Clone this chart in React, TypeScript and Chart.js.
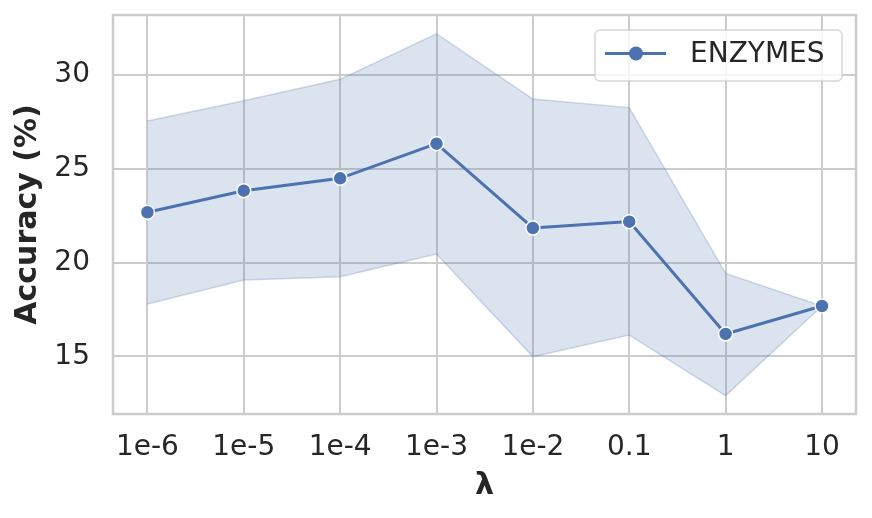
import React, { useEffect, useRef } from 'react';
import { Chart, registerables } from 'chart.js';

Chart.register(...registerables);

const lambdaLabels = ['1e-6', '1e-5', '1e-4', '1e-3', '1e-2', '0.1', '1', '10'];
const meanAcc = [22.68, 23.83, 24.49, 26.34, 21.84, 22.18, 16.19, 17.68];
const upperAcc = [27.55, 28.63, 29.77, 32.2, 28.72, 28.26, 19.42, 17.68];
const lowerAcc = [17.79, 19.07, 19.24, 20.45, 14.98, 16.13, 12.9, 17.68];
const yTicks = [15, 20, 25, 30];
const seriesName = 'ENZYMES';

const BLUE = '#4c72b0';
const TEXT = '#262626';
const GRID = '#cccccc';
const FONT = "'DejaVu Sans', sans-serif";

const framePlugin = {
  id: 'frame',
  afterDatasetsDraw(chart: any) {
    const { ctx, chartArea: a } = chart;
    ctx.save();
    ctx.strokeStyle = GRID;
    ctx.lineWidth = 2.5;
    ctx.strokeRect(a.left, a.top, a.right - a.left, a.bottom - a.top);
    ctx.restore();
  },
};

const legendPlugin = {
  id: 'boxLegend',
  afterDraw(chart: any) {
    const { ctx, chartArea: a } = chart;
    const w = 247;
    const h = 51;
    const x = a.right - 14 - w;
    const y = a.top + 15;
    const r = 5;
    ctx.save();
    ctx.beginPath();
    ctx.moveTo(x + r, y);
    ctx.lineTo(x + w - r, y);
    ctx.arcTo(x + w, y, x + w, y + r, r);
    ctx.lineTo(x + w, y + h - r);
    ctx.arcTo(x + w, y + h, x + w - r, y + h, r);
    ctx.lineTo(x + r, y + h);
    ctx.arcTo(x, y + h, x, y + h - r, r);
    ctx.lineTo(x, y + r);
    ctx.arcTo(x, y, x + r, y, r);
    ctx.closePath();
    ctx.fillStyle = 'rgba(255,255,255,0.8)';
    ctx.fill();
    ctx.strokeStyle = 'rgba(204,204,204,0.8)';
    ctx.lineWidth = 1.5;
    ctx.stroke();
    const cy = y + h / 2 - 2;
    ctx.strokeStyle = BLUE;
    ctx.lineWidth = 3;
    ctx.beginPath();
    ctx.moveTo(x + 10, cy);
    ctx.lineTo(x + 71, cy);
    ctx.stroke();
    ctx.beginPath();
    ctx.arc(x + 41, cy, 7, 0, Math.PI * 2);
    ctx.fillStyle = BLUE;
    ctx.fill();
    ctx.fillStyle = TEXT;
    ctx.font = `28px ${FONT}`;
    ctx.textAlign = 'left';
    ctx.textBaseline = 'middle';
    ctx.fillText(chart.data.datasets[0].label, x + 95, cy + 1);
    ctx.restore();
  },
};

export default function App() {
  const ref = useRef<HTMLCanvasElement | null>(null);

  useEffect(() => {
    if (!ref.current) return;
    const chart = new Chart(ref.current, {
      type: 'line',
      data: {
        datasets: [
          {
            label: seriesName,
            data: meanAcc.map((v, i) => ({ x: i, y: v })),
            borderColor: BLUE,
            backgroundColor: BLUE,
            borderWidth: 3,
            pointRadius: 7,
            pointBorderColor: '#ffffff',
            pointBorderWidth: 1.5,
            pointBackgroundColor: BLUE,
            fill: false,
            tension: 0,
          },
          {
            label: 'upper',
            data: upperAcc.map((v, i) => ({ x: i, y: v })),
            borderColor: 'rgba(76,114,176,0.25)',
            borderWidth: 1.5,
            pointRadius: 0,
            backgroundColor: 'rgba(76,114,176,0.2)',
            fill: '+1',
            tension: 0,
          },
          {
            label: 'lower',
            data: lowerAcc.map((v, i) => ({ x: i, y: v })),
            borderColor: 'rgba(76,114,176,0.25)',
            borderWidth: 1.5,
            pointRadius: 0,
            backgroundColor: 'rgba(76,114,176,0.2)',
            fill: false,
            tension: 0,
          },
        ],
      },
      options: {
        responsive: false,
        animation: false,
        devicePixelRatio: 1,
        layout: { padding: { left: 0, right: 16, top: 15, bottom: 0 } },
        plugins: {
          legend: { display: false },
          tooltip: { enabled: false },
        },
        scales: {
          x: {
            type: 'linear',
            min: -0.357,
            max: 7.353,
            afterBuildTicks: (axis: any) => {
              axis.ticks = lambdaLabels.map((_, i) => ({ value: i }));
            },
            afterFit: (axis: any) => {
              axis.height = 104;
              axis.paddingLeft = 0;
              axis.paddingRight = 0;
            },
            ticks: {
              callback: (v: any) => lambdaLabels[v] ?? '',
              color: TEXT,
              font: { family: FONT, size: 28 },
              padding: 17,
              maxRotation: 0,
              autoSkip: false,
            },
            grid: { color: GRID, lineWidth: 2, drawTicks: false },
            border: { display: false },
            title: {
              display: true,
              text: 'λ',
              color: TEXT,
              font: { family: FONT, size: 30, weight: 'bold' },
              padding: { top: 0, bottom: 14 },
            },
          },
          y: {
            type: 'linear',
            min: 11.92,
            max: 33.2,
            afterBuildTicks: (axis: any) => {
              axis.ticks = yTicks.map((v) => ({ value: v }));
            },
            afterFit: (axis: any) => {
              axis.width = 113;
              axis.paddingTop = 0;
              axis.paddingBottom = 0;
            },
            ticks: {
              color: TEXT,
              font: { family: FONT, size: 28 },
              padding: 23,
            },
            grid: { color: GRID, lineWidth: 2, drawTicks: false },
            border: { display: false },
            title: {
              display: true,
              text: 'Accuracy (%)',
              color: TEXT,
              font: { family: FONT, size: 30, weight: 'bold' },
              padding: { top: 10, bottom: 0 },
            },
          },
        },
      },
      plugins: [framePlugin, legendPlugin],
    } as any);
    return () => chart.destroy();
  }, []);

  return (
    <div style={{ position: 'absolute', left: 0, top: 0, width: 872, height: 518, background: '#fff' }}>
      <canvas ref={ref} width={872} height={518} />
    </div>
  );
}
